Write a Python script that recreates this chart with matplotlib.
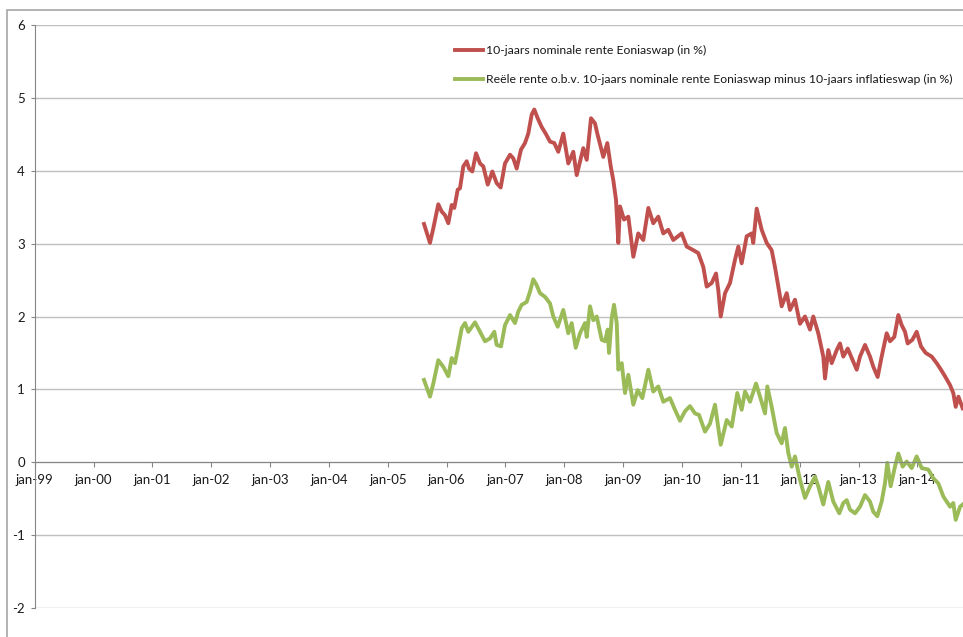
import matplotlib
matplotlib.use("Agg")
import matplotlib.pyplot as plt
from matplotlib.patches import Rectangle

# ---- data (decimal years, percent) ----
nom_t = [2005.615, 2005.717, 2005.773, 2005.858, 2005.916, 2005.972, 2006.028, 2006.086, 2006.130,
         2006.188, 2006.227, 2006.283, 2006.341, 2006.380, 2006.436, 2006.499, 2006.567, 2006.623,
         2006.698, 2006.776, 2006.850, 2006.918, 2006.991, 2007.077, 2007.133, 2007.190, 2007.263,
         2007.331, 2007.387, 2007.445, 2007.489, 2007.547, 2007.615, 2007.683, 2007.756, 2007.829,
         2007.897, 2007.982, 2008.067, 2008.152, 2008.210, 2008.322, 2008.380, 2008.453, 2008.521,
         2008.560, 2008.662, 2008.730, 2008.788, 2008.832, 2008.878, 2008.917, 2008.946, 2009.014,
         2009.087, 2009.172, 2009.256, 2009.341, 2009.427, 2009.511, 2009.596, 2009.681, 2009.766,
         2009.851, 2009.994, 2010.079, 2010.191, 2010.276, 2010.361, 2010.419, 2010.504, 2010.577,
         2010.616, 2010.657, 2010.730, 2010.815, 2010.900, 2010.956, 2011.013, 2011.098, 2011.183,
         2011.210, 2011.268, 2011.353, 2011.438, 2011.523, 2011.579, 2011.636, 2011.693, 2011.778,
         2011.834, 2011.919, 2012.004, 2012.089, 2012.174, 2012.230, 2012.315, 2012.400, 2012.429,
         2012.485, 2012.543, 2012.628, 2012.684, 2012.740, 2012.815, 2012.883, 2012.968, 2013.024,
         2013.109, 2013.194, 2013.250, 2013.324, 2013.392, 2013.477, 2013.534, 2013.607, 2013.675,
         2013.733, 2013.789, 2013.834, 2013.913, 2013.987, 2014.060, 2014.140, 2014.242, 2014.327,
         2014.400, 2014.468, 2014.553, 2014.609, 2014.650, 2014.696, 2014.769]
nom_v = [3.27, 3.01, 3.21, 3.54, 3.44, 3.39, 3.28, 3.53, 3.49,
         3.74, 3.76, 4.06, 4.13, 4.03, 3.99, 4.24, 4.10, 4.06,
         3.81, 3.99, 3.83, 3.77, 4.10, 4.22, 4.17, 4.03, 4.29,
         4.38, 4.51, 4.77, 4.84, 4.72, 4.60, 4.51, 4.40, 4.38,
         4.26, 4.51, 4.10, 4.26, 3.94, 4.31, 4.15, 4.72, 4.65,
         4.51, 4.19, 4.38, 4.06, 3.87, 3.60, 3.01, 3.51, 3.33,
         3.37, 2.82, 3.14, 3.05, 3.49, 3.28, 3.37, 3.14, 3.19,
         3.05, 3.14, 2.96, 2.91, 2.87, 2.68, 2.41, 2.46, 2.59,
         2.36, 2.00, 2.32, 2.46, 2.78, 2.96, 2.73, 3.10, 3.14,
         3.01, 3.48, 3.19, 3.01, 2.91, 2.68, 2.41, 2.14, 2.32,
         2.09, 2.23, 1.90, 2.00, 1.82, 2.00, 1.77, 1.45, 1.15,
         1.54, 1.36, 1.54, 1.63, 1.45, 1.56, 1.43, 1.27, 1.45,
         1.61, 1.45, 1.31, 1.17, 1.45, 1.77, 1.66, 1.72, 2.02,
         1.88, 1.79, 1.63, 1.68, 1.79, 1.59, 1.50, 1.45, 1.36,
         1.27, 1.18, 1.06, 0.95, 0.76, 0.90, 0.74]

real_t = [2005.615, 2005.717, 2005.773, 2005.858, 2005.943, 2006.028, 2006.086, 2006.142, 2006.198,
          2006.256, 2006.312, 2006.368, 2006.482, 2006.567, 2006.652, 2006.737, 2006.810, 2006.850,
          2006.924, 2006.991, 2007.077, 2007.161, 2007.218, 2007.275, 2007.360, 2007.416, 2007.472,
          2007.530, 2007.586, 2007.671, 2007.756, 2007.812, 2007.887, 2007.982, 2008.067, 2008.125,
          2008.193, 2008.266, 2008.351, 2008.380, 2008.436, 2008.492, 2008.550, 2008.635, 2008.691,
          2008.737, 2008.759, 2008.805, 2008.844, 2008.890, 2008.917, 2008.975, 2009.031, 2009.087,
          2009.172, 2009.246, 2009.325, 2009.427, 2009.511, 2009.596, 2009.681, 2009.795, 2009.880,
          2009.965, 2010.050, 2010.135, 2010.220, 2010.288, 2010.390, 2010.475, 2010.560, 2010.657,
          2010.759, 2010.844, 2010.939, 2011.013, 2011.070, 2011.155, 2011.257, 2011.325, 2011.410,
          2011.449, 2011.523, 2011.608, 2011.693, 2011.749, 2011.805, 2011.863, 2011.919, 2012.004,
          2012.089, 2012.174, 2012.259, 2012.315, 2012.400, 2012.485, 2012.570, 2012.672, 2012.740,
          2012.798, 2012.854, 2012.939, 2013.024, 2013.109, 2013.194, 2013.250, 2013.318, 2013.392,
          2013.448, 2013.488, 2013.545, 2013.618, 2013.675, 2013.749, 2013.817, 2013.902, 2013.987,
          2014.072, 2014.184, 2014.270, 2014.355, 2014.440, 2014.554, 2014.609, 2014.650, 2014.724,
          2014.769]
real_v = [1.13, 0.90, 1.08, 1.40, 1.31, 1.18, 1.43, 1.36, 1.59,
          1.84, 1.91, 1.79, 1.92, 1.79, 1.66, 1.70, 1.79, 1.61,
          1.59, 1.88, 2.02, 1.91, 2.07, 2.16, 2.20, 2.34, 2.51,
          2.43, 2.32, 2.27, 2.18, 2.00, 1.86, 2.09, 1.77, 1.91,
          1.57, 1.77, 1.91, 1.72, 2.14, 1.95, 2.00, 1.68, 1.66,
          1.82, 1.50, 1.98, 2.16, 1.91, 1.27, 1.36, 0.95, 1.20,
          0.79, 0.99, 0.88, 1.27, 0.97, 1.04, 0.83, 0.88, 0.72,
          0.57, 0.70, 0.77, 0.67, 0.65, 0.42, 0.53, 0.79, 0.24,
          0.58, 0.49, 0.95, 0.72, 0.97, 0.83, 1.08, 0.90, 0.67,
          1.04, 0.76, 0.40, 0.26, 0.47, 0.13, -0.06, 0.08, -0.24,
          -0.49, -0.33, -0.20, -0.33, -0.58, -0.27, -0.54, -0.70, -0.56,
          -0.52, -0.65, -0.70, -0.61, -0.45, -0.54, -0.68, -0.74, -0.54,
          -0.29, -0.01, -0.33, -0.06, 0.12, -0.06, 0.01, -0.08, 0.08,
          -0.08, -0.10, -0.22, -0.29, -0.47, -0.61, -0.56, -0.79, -0.61,
          -0.58]

tick_years = list(range(1999, 2015))
tick_labels = ["jan-%02d" % (y % 100) for y in tick_years]
y_ticks = [-2, -1, 0, 1, 2, 3, 4, 5, 6]

series_names = ["10-jaars nominale rente Eoniaswap (in %)",
                "Re\u00eble rente o.b.v. 10-jaars nominale rente Eoniaswap minus 10-jaars inflatieswap (in %)"]

# ---- figure ----
plt.rcParams['font.family'] = ['Lato', 'DejaVu Sans']
W, H = 963, 637
fig = plt.figure(figsize=(W / 100, H / 100), dpi=100)

# outer chart frame
fig.add_artist(Rectangle((7 / W, -0.05), 1.1, (H - 10) / H + 0.05, transform=fig.transFigure,
                         fill=False, edgecolor='#a6a6a6', linewidth=1.2))

left_px, right_px, top_px, bot_px = 34.7, 963, 25, 608
ax = fig.add_axes([left_px / W, (H - bot_px) / H, (right_px - left_px) / W, (bot_px - top_px) / H])
ax.set_xlim(1999, 1999 + (right_px - left_px) / 58.85)
ax.set_ylim(-2, 6)

# horizontal gridlines, below everything
for v in y_ticks:
    ax.axhline(v, color='#bfbfbf', linewidth=1.0, zorder=0)

ax.plot(nom_t, nom_v, color='#c0504d', lw=2.8, solid_joinstyle='round', label=series_names[0], zorder=2)
ax.plot(real_t, real_v, color='#9bbb59', lw=2.8, solid_joinstyle='round', label=series_names[1], zorder=2)

ax.set_yticks(y_ticks)
ax.set_yticklabels([str(v) for v in y_ticks])
for s in ['top', 'right']:
    ax.spines[s].set_visible(False)
ax.spines['left'].set_color('#868686')
ax.spines['bottom'].set_position(('data', 0))
ax.spines['bottom'].set_color('#868686')
ax.set_xticks(tick_years)
ax.set_xticklabels(tick_labels)
ax.tick_params(axis='x', direction='out', length=3.5, color='#868686', labelsize=9.5, pad=5,
               labelcolor='#1a1a1a')
ax.tick_params(axis='y', direction='out', length=3, color='#868686', labelsize=9.5, pad=4,
               labelcolor='#1a1a1a')

leg = ax.legend(loc='upper left', bbox_to_anchor=(455 / W, 1 - 45 / H), bbox_transform=fig.transFigure,
                frameon=False, fontsize=8.8, handlelength=2.3, handletextpad=0.2, labelspacing=1.45,
                borderaxespad=0, borderpad=0)
for t in leg.get_texts():
    t.set_color('#1a1a1a')

fig.savefig('out.png', dpi=100)
